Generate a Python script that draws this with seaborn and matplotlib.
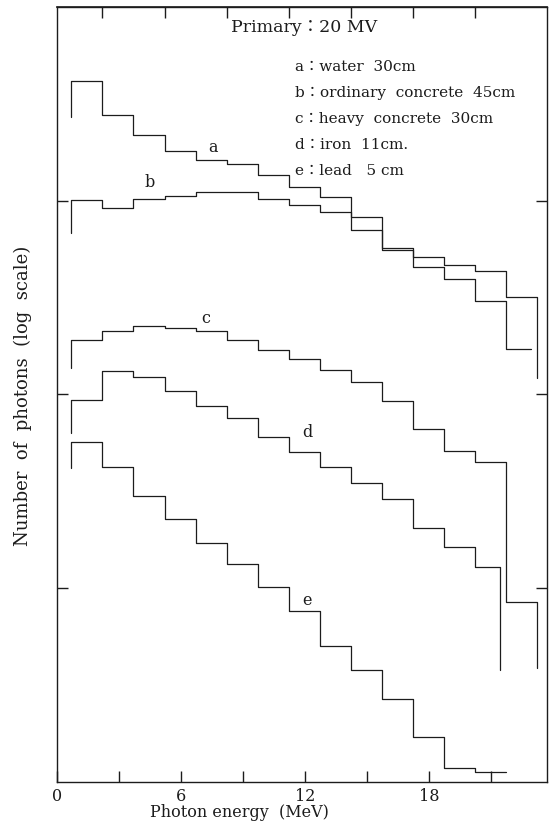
import numpy as np
import pandas as pd
import matplotlib
matplotlib.use("Agg")
import matplotlib.pyplot as plt
import seaborn as sns

# Energy bin edges (MeV), 1.5 MeV wide bins
energy_edges = [0.7, 2.2, 3.7, 5.2, 6.7, 8.2, 9.7, 11.2, 12.7, 14.2,
                15.7, 17.2, 18.7, 20.2, 21.7, 23.2]

# Photon counts per bin (relative, log scale), one spectrum per shield
water_a = [4150, 2770, 2180, 1810, 1620, 1550, 1360, 1180, 1045, 824,
           570, 512, 466, 434, 319]
ord_concrete_b = [1010, 918, 1020, 1060, 1110, 1110, 1020, 951, 875, 706,
                  557, 455, 394, 304, 172]
heavy_concrete_c = [191, 213, 226, 220, 213, 191, 170, 152, 134, 116,
                    92.6, 66.4, 51.1, 44.9, 8.5]
iron_d = [94, 132, 123, 104, 87.2, 75.6, 60.3, 50.5, 42.3, 34.9,
          28.9, 20.5, 16.3, 12.9]
lead_e = [56.9, 42.3, 29.9, 22.8, 17.1, 13.3, 10.2, 7.63, 5.03, 3.78,
          2.68, 1.71, 1.18, 1.13]

curve_keys = ["a", "b", "c", "d", "e"]
curve_counts = [water_a, ord_concrete_b, heavy_concrete_c, iron_d, lead_e]
# upper end of the last bin drawn for each spectrum
last_edge = [23.2, 22.95, 23.2, 21.45, 21.7]
# levels the histogram outline drops to at its ends (None: no drop line)
start_drop = [2710, 682, 137, 63.3, 41.8]
end_drop = [122, None, 3.88, 3.78, None]

# curve tags placed next to each spectrum
tag_energy = [7.55, 4.5, 7.2, 12.1, 12.1]
tag_count = [1890, 1235, 248, 63.3, 8.6]

legend_lines = [
    "a\uff1awater  30cm",
    "b\uff1aordinary  concrete  45cm",
    "c\uff1aheavy  concrete  30cm",
    "d\uff1airon  11cm.",
    "e\uff1alead   5 cm",
]

x_major = [0, 6, 12, 18]
x_minor = [3, 9, 15, 21]
x_top = [2.2, 5.2, 8.2, 11.2, 14.2, 17.2, 20.2]

# Build outline vertices of each step histogram
rows = []
for key, counts, top_edge, d0, d1 in zip(curve_keys, curve_counts, last_edge,
                                          start_drop, end_drop):
    edges = energy_edges[:len(counts)] + [top_edge]
    xs, ys = [edges[0]], [d0]
    for i, c in enumerate(counts):
        xs += [edges[i], edges[i + 1]]
        ys += [c, c]
    if d1 is not None:
        xs.append(edges[-1])
        ys.append(d1)
    for order, (xv, yv) in enumerate(zip(xs, ys)):
        rows.append({"curve": key, "order": order, "energy": xv, "photons": yv})
df = pd.DataFrame(rows)

sns.set_theme(style="white")
serif = ["DejaVu Serif", "Noto Sans CJK JP"]
plt.rcParams["font.family"] = serif

ink = "#1c1c1c"
fig = plt.figure(figsize=(5.56, 8.26), dpi=100)
ax = fig.add_axes([0.1025, 0.0533, 0.8813, 0.9382])

sns.lineplot(data=df, x="energy", y="photons", units="curve", estimator=None,
             sort=False, color=ink, linewidth=0.9, ax=ax, legend=False)

ax.set_yscale("log")
ax.set_xlim(0, 23.7)
ax.set_ylim(1, 1e4)

for s in ax.spines.values():
    s.set_color(ink)
    s.set_linewidth(1.0)

ax.set_xticks(x_major)
ax.set_xticks(x_minor, minor=True)
ax.set_xticklabels([str(v) for v in x_major])
ax.tick_params(axis="x", which="both", direction="in", length=8, width=1.0,
               color=ink, bottom=True, top=False, labelsize=11.5, pad=4,
               labelcolor=ink)
ax.set_yticks([10, 100, 1000])
ax.yaxis.set_minor_locator(matplotlib.ticker.NullLocator())
ax.tick_params(axis="y", which="major", direction="in", length=8, width=1.0,
               color=ink, left=True, right=True, labelleft=False)

top = ax.secondary_xaxis("top")
top.set_xticks(x_top)
top.set_xticklabels([])
top.tick_params(direction="in", length=8, width=1.0, color=ink)

ax.set_xlabel("Photon energy  (MeV)", fontsize=11.5, labelpad=0, color=ink)
ax.xaxis.set_label_coords(0.373, -0.029)
ax.set_ylabel("Number  of  photons  (log  scale)", fontsize=13, color=ink)
ax.yaxis.set_label_coords(-0.05, 0.498)

for k, xe, yc in zip(curve_keys, tag_energy, tag_count):
    ax.text(xe, yc, k, fontsize=11.5, ha="center", va="center", color=ink)

ax.text(0.504, 0.973, "Primary\uff1a20 MV", transform=ax.transAxes,
        fontsize=12.5, ha="center", va="center", color=ink)
for i, line in enumerate(legend_lines):
    ax.text(0.485, 0.9226 - i * 0.0337, line, transform=ax.transAxes,
            fontsize=11, ha="left", va="center", color=ink)

fig.savefig("out.png", dpi=100)
